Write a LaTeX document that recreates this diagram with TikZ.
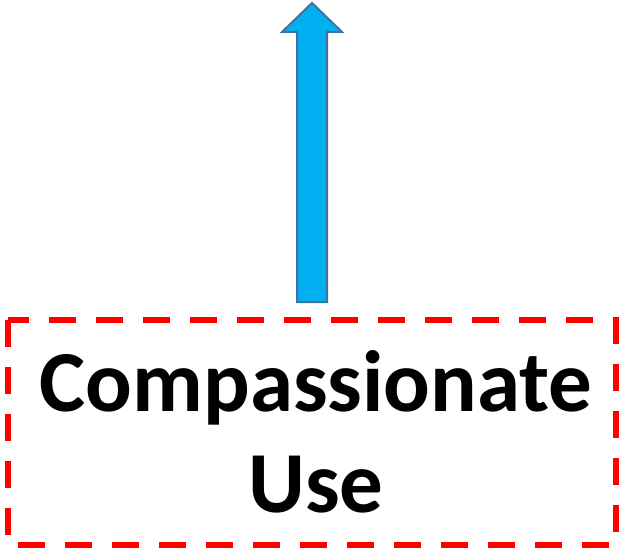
\documentclass[tikz,border=0pt]{standalone}
\usepackage{fontspec}
\setmainfont{Carlito}
\definecolor{arrowfill}{HTML}{00B0F0}
\definecolor{arrowline}{HTML}{41719C}
\definecolor{boxred}{HTML}{FF0000}
\begin{document}
\begin{tikzpicture}[x=1pt,y=1pt,
  blockarrow/.style={fill=arrowfill,draw=arrowline,line width=2pt,line join=miter},
  redbox/.style={draw=boxred,line width=6pt,dash pattern=on 27pt off 20pt},
  label/.style={font=\fontsize{87}{101}\selectfont\bfseries,align=center,inner sep=0pt}]
\useasboundingbox (0,0) rectangle (623,-548);
\draw[redbox] (8,-320) rectangle (616,-545);
\node[label,anchor=base] (box) at (316,-512) {Compassionate\\Use};
\draw[blockarrow] (297,-302) -- (297,-32) -- (282,-32) -- (312,-3) -- (342,-32) -- (327,-32) -- (327,-302) -- cycle;
\end{tikzpicture}
\end{document}
